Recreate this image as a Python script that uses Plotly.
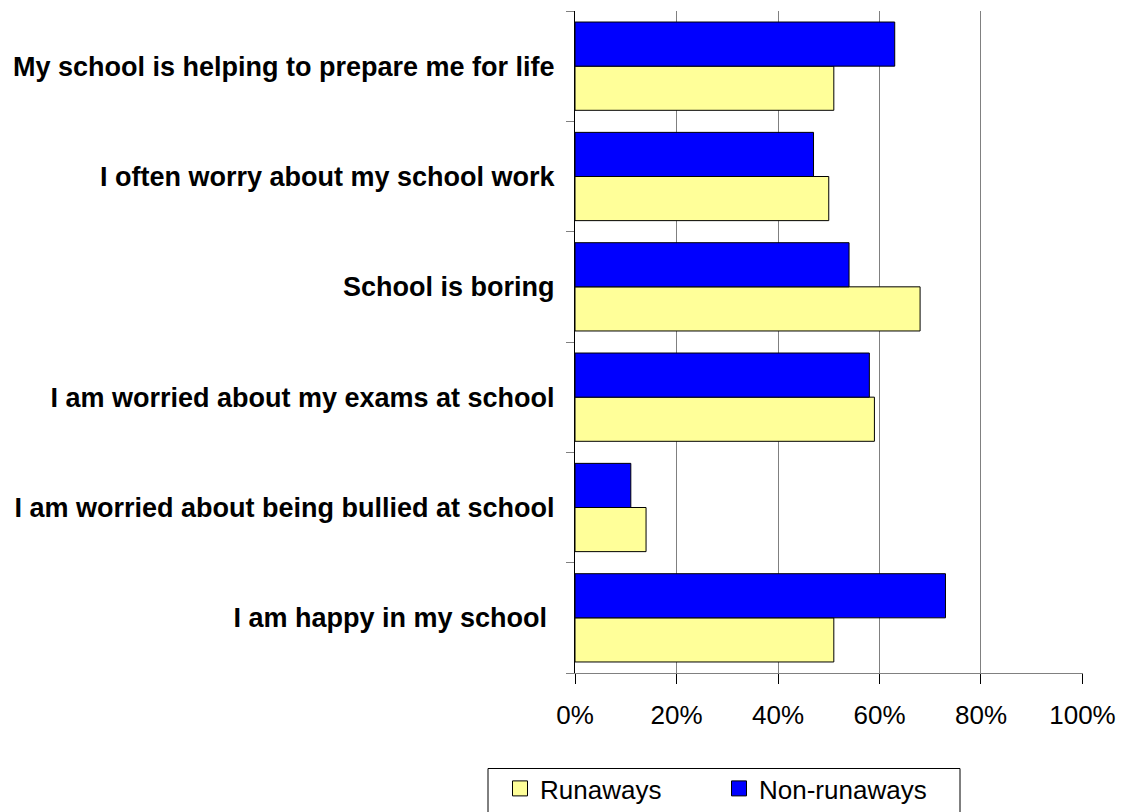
import plotly.graph_objects as go

# Survey statements, listed bottom to top as they appear on the category axis
statements = [
    "I am happy in my school\u00a0",
    "I am worried about being bullied at school",
    "I am worried about my exams at school",
    "School is boring",
    "I often worry about my school work",
    "My school is helping to prepare me for life",
]

# Share of respondents agreeing (fractions)
runaways = [0.51, 0.14, 0.59, 0.68, 0.50, 0.51]
non_runaways = [0.73, 0.11, 0.58, 0.54, 0.47, 0.63]

x_ticks = [0, 0.2, 0.4, 0.6, 0.8, 1.0]

series = [
    ("Runaways", runaways, "#FFFF99"),
    ("Non-runaways", non_runaways, "#0000FF"),
]

FONT = "Liberation Sans, Arial, sans-serif"

fig = go.Figure()
for name, values, colour in series:
    fig.add_trace(go.Bar(
        y=statements, x=values, orientation="h", name=name,
        marker=dict(color=colour, line=dict(color="#000000", width=1)),
        showlegend=False, legendgroup=name,
    ))
# Legend keys drawn as bordered squares
for name, values, colour in series:
    fig.add_trace(go.Scatter(
        x=[None], y=[None], mode="markers", name=name, legendgroup=name,
        marker=dict(symbol="square", size=15, color=colour,
                    line=dict(color="#000000", width=1)),
        hoverinfo="skip",
    ))

W, H = 1125, 812
left, right, top, bottom = 575, 1083, 11, 673
plot_w = right - left
plot_h = bottom - top


def px_x(x):
    return (x - left) / plot_w


def px_y(y):
    return (bottom - y) / plot_h


# Legend frame, open at the bottom edge of the page
box_l, box_r, box_t = 488, 960, 768.5
fig.add_shape(
    type="path", xref="paper", yref="paper",
    path=(f"M {px_x(box_l)} {px_y(H + 2)} L {px_x(box_l)} {px_y(box_t)} "
          f"L {px_x(box_r)} {px_y(box_t)} L {px_x(box_r)} {px_y(H + 2)}"),
    line=dict(color="#000000", width=1), layer="above",
)

fig.update_layout(
    template="none",
    width=W, height=H,
    margin=dict(l=left, r=W - right, t=top, b=H - bottom, pad=0,
                autoexpand=False),
    paper_bgcolor="white", plot_bgcolor="white",
    barmode="group", bargap=0.2, bargroupgap=0,
    font=dict(family=FONT, color="black"),
    xaxis=dict(
        range=[0, 1.001], tickvals=x_ticks, tickformat=".0%",
        showgrid=True, gridcolor="#808080", gridwidth=1,
        showline=True, linecolor="#808080", linewidth=1,
        ticks="outside", ticklen=10, tickcolor="#000000", tickwidth=1,
        tickfont=dict(family=FONT, size=26, color="black"),
        ticklabelstandoff=9, automargin=False,
        zeroline=False, fixedrange=True,
    ),
    yaxis=dict(
        showgrid=False, zeroline=False,
        showline=True, linecolor="#000000", linewidth=1,
        ticks="outside", ticklen=8, tickcolor="#808080", tickwidth=1,
        tickson="boundaries",
        tickfont=dict(family=FONT, size=27, color="black", weight="bold"),
        ticklabelstandoff=14, automargin=False,
        fixedrange=True,
    ),
    legend=dict(
        orientation="h",
        xref="paper", yref="paper",
        x=px_x(500), xanchor="left",
        y=px_y(812), yanchor="bottom",
        borderwidth=0, bgcolor="rgba(0,0,0,0)",
        font=dict(family=FONT, size=26, color="black"),
        entrywidth=174, entrywidthmode="pixels",
        traceorder="normal",
    ),
    showlegend=True,
)

fig.write_html("out.html", config={"displayModeBar": False})
